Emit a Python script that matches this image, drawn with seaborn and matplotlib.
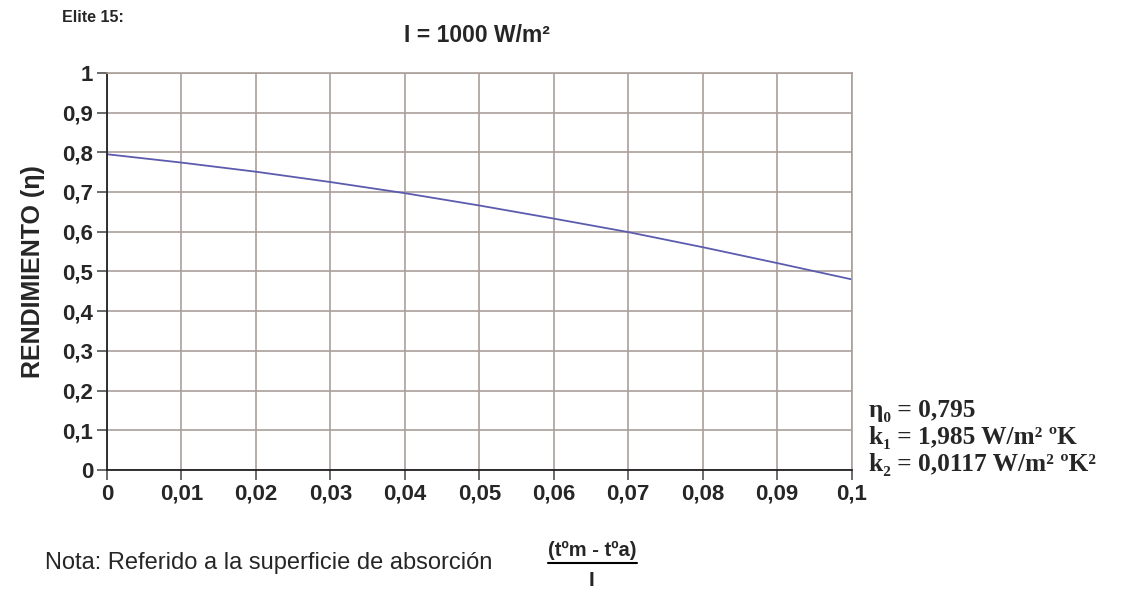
import matplotlib
matplotlib.use("Agg")
import matplotlib.pyplot as plt
from matplotlib.lines import Line2D
import numpy as np
import pandas as pd
import seaborn as sns

# Efficiency curve of the Elite 15 collector at I = 1000 W/m²
x_vals = [0.0, 0.01, 0.02, 0.03, 0.04, 0.05, 0.06, 0.07, 0.08, 0.09, 0.10]
eta_vals = [0.795, 0.774, 0.751, 0.725, 0.697, 0.666, 0.633, 0.599, 0.561, 0.521, 0.480]

x_ticks = [0.0, 0.01, 0.02, 0.03, 0.04, 0.05, 0.06, 0.07, 0.08, 0.09, 0.10]
x_tick_labels = ["0", "0,01", "0,02", "0,03", "0,04", "0,05", "0,06", "0,07", "0,08", "0,09", "0,1"]
y_ticks = [0.0, 0.1, 0.2, 0.3, 0.4, 0.5, 0.6, 0.7, 0.8, 0.9, 1.0]
y_tick_labels = ["0", "0,1", "0,2", "0,3", "0,4", "0,5", "0,6", "0,7", "0,8", "0,9", "1"]

params = ["η₀ = 0,795", "k₁ = 1,985 W/m² ºK", "k₂ = 0,0117 W/m² ºK²"]

sns.set_style("white")
plt.rcParams["font.family"] = ["Liberation Sans", "DejaVu Sans"]

df = pd.DataFrame({"x": x_vals, "eta": eta_vals})

fig = plt.figure(figsize=(11.30, 5.92), dpi=100)
ax = fig.add_axes([0.0947, 0.206, 0.659, 0.671])

grid_c = "#ab9f99"
line_c = "#5c5cae"

sns.lineplot(data=df, x="x", y="eta", ax=ax, color=line_c, linewidth=1.3)

ax.set_xlim(0, 0.1)
ax.set_ylim(0, 1)
ax.set_xticks(x_ticks)
ax.set_xticklabels(x_tick_labels, fontsize=16, fontweight="bold")
ax.set_yticks(y_ticks)
ax.set_yticklabels(y_tick_labels, fontsize=16, fontweight="bold")
ax.grid(True, color=grid_c, linewidth=1.2)
ax.set_axisbelow(True)

for side in ("top", "right"):
    ax.spines[side].set_color(grid_c)
    ax.spines[side].set_linewidth(1.2)
for side in ("left", "bottom"):
    ax.spines[side].set_color("#222222")
    ax.spines[side].set_linewidth(1.3)

ax.tick_params(axis="both", direction="out", length=7, width=1.1, color="#444444",
               left=True, bottom=True, pad=3)
ax.set_xlabel("")
ax.set_ylabel("RENDIMIENTO (η)", fontsize=18, fontweight="bold", labelpad=12)

fig.text(62 / 1130, 1 - 17 / 592, "Elite 15:", fontsize=11.5, fontweight="bold",
         ha="left", va="center")
fig.text(477 / 1130, 1 - 35 / 592, "I = 1000 W/m²", fontsize=16.5, fontweight="bold",
         ha="center", va="center")

serif = ["Liberation Serif", "DejaVu Serif"]
for i, t in enumerate(params):
    fig.text(869 / 1130, 1 - (410 + 27.5 * i) / 592, t, fontsize=18.3, fontweight="bold",
             family=serif, ha="left", va="center")

fig.text(45 / 1130, 1 - 563 / 592, "Nota: Referido a la superficie de absorción",
         fontsize=17, ha="left", va="center")
fig.text(592 / 1130, 1 - 550 / 592, "(tºm - tºa)", fontsize=14.5, fontweight="bold",
         ha="center", va="center")
fig.add_artist(Line2D([548 / 1130, 637 / 1130], [1 - 563 / 592, 1 - 563 / 592],
                      transform=fig.transFigure, color="black", linewidth=1.5))
fig.text(591 / 1130, 1 - 580 / 592, "I", fontsize=15, fontweight="bold",
         ha="center", va="center")

fig.savefig("out.png", dpi=100, facecolor="white")
